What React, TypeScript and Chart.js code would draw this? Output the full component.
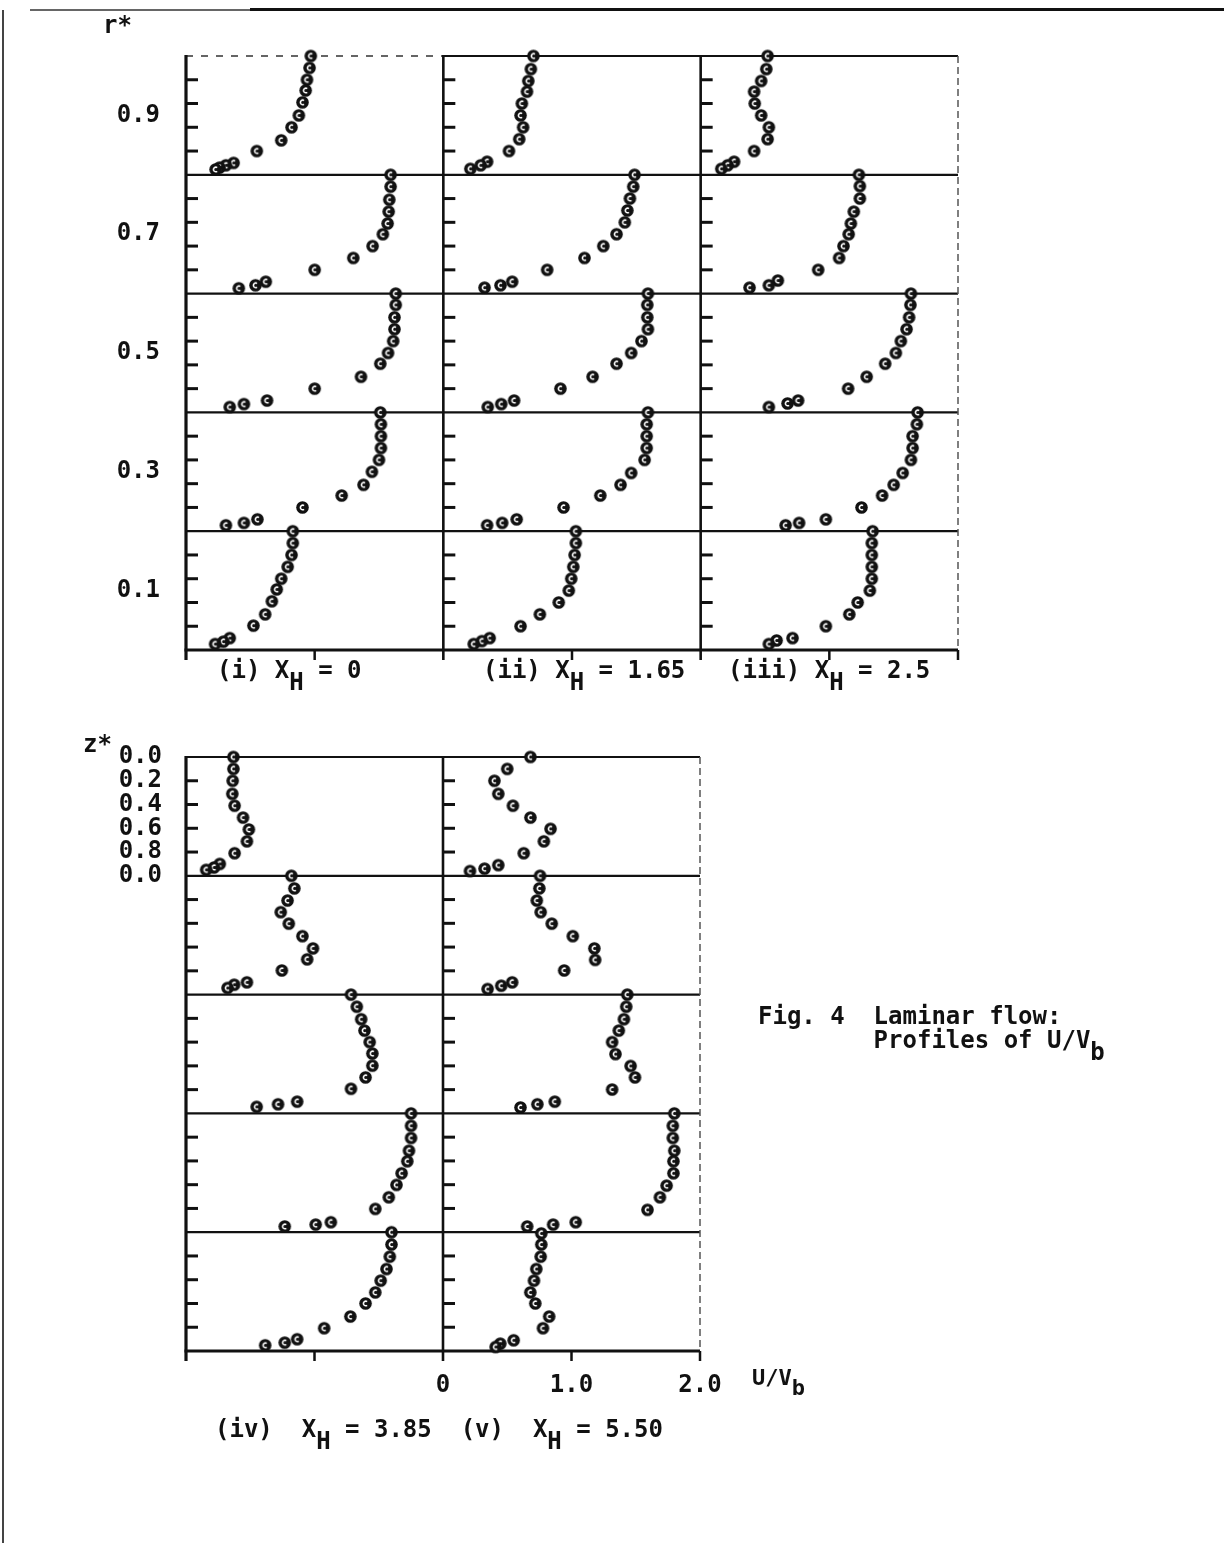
import React, { useEffect, useRef } from "react";
import { Chart, registerables } from "chart.js";

Chart.register(...registerables);

const MONO = '"DejaVu Sans Mono", "Liberation Mono", monospace';
const INK = "#111";

// Upper set: U/Vb across r*, five profiles per station, listed from the top band down.
// u = U/Vb, s = height inside the band (0 = band foot, 1 = band head).
const uXh0 = [
  [0.97, 0.96, 0.94, 0.93, 0.905, 0.877, 0.82, 0.74, 0.55, 0.37, 0.31, 0.26, 0.23],
  [1.59, 1.59, 1.58, 1.575, 1.567, 1.53, 1.45, 1.3, 1.0, 0.62, 0.54, 0.41],
  [1.63, 1.63, 1.62, 1.62, 1.61, 1.57, 1.51, 1.36, 1.0, 0.63, 0.45, 0.34],
  [1.51, 1.515, 1.515, 1.515, 1.5, 1.445, 1.38, 1.21, 0.905, 0.555, 0.45, 0.31],
  [0.83, 0.83, 0.82, 0.79, 0.74, 0.705, 0.667, 0.615, 0.524, 0.34, 0.29, 0.226],
];
const sXh0 = [
  [1.0, 0.9, 0.8, 0.71, 0.61, 0.5, 0.4, 0.29, 0.2, 0.1, 0.08, 0.06, 0.045],
  [1.0, 0.9, 0.79, 0.69, 0.59, 0.5, 0.4, 0.3, 0.2, 0.1, 0.07, 0.045],
  [1.0, 0.905, 0.8, 0.7, 0.6, 0.5, 0.41, 0.3, 0.2, 0.1, 0.07, 0.045],
  [1.0, 0.9, 0.8, 0.7, 0.6, 0.5, 0.39, 0.3, 0.2, 0.1, 0.07, 0.05],
  [1.0, 0.9, 0.8, 0.7, 0.6, 0.51, 0.41, 0.3, 0.205, 0.1, 0.07, 0.05],
];

const uXh165 = [
  [0.7, 0.68, 0.66, 0.65, 0.61, 0.6, 0.62, 0.59, 0.51, 0.34, 0.29, 0.21],
  [1.486, 1.476, 1.45, 1.43, 1.41, 1.346, 1.243, 1.097, 0.807, 0.535, 0.444, 0.32],
  [1.59, 1.585, 1.585, 1.59, 1.54, 1.46, 1.346, 1.16, 0.91, 0.55, 0.45, 0.345],
  [1.59, 1.58, 1.58, 1.58, 1.564, 1.46, 1.377, 1.22, 0.934, 0.57, 0.457, 0.34],
  [1.03, 1.03, 1.02, 1.01, 0.994, 0.975, 0.897, 0.75, 0.6, 0.36, 0.3, 0.236],
];
const sXh165 = [
  [1.0, 0.89, 0.79, 0.7, 0.6, 0.5, 0.4, 0.3, 0.2, 0.11, 0.08, 0.05],
  [1.0, 0.9, 0.8, 0.7, 0.6, 0.5, 0.4, 0.3, 0.2, 0.1, 0.07, 0.05],
  [1.0, 0.905, 0.8, 0.7, 0.6, 0.5, 0.41, 0.3, 0.2, 0.1, 0.07, 0.045],
  [1.0, 0.9, 0.8, 0.7, 0.6, 0.49, 0.39, 0.3, 0.2, 0.1, 0.07, 0.05],
  [1.0, 0.9, 0.8, 0.7, 0.6, 0.5, 0.4, 0.3, 0.2, 0.1, 0.075, 0.05],
];

const uXh25 = [
  [0.52, 0.51, 0.47, 0.415, 0.42, 0.47, 0.53, 0.52, 0.415, 0.26, 0.21, 0.16],
  [1.23, 1.237, 1.237, 1.19, 1.167, 1.15, 1.11, 1.076, 0.913, 0.6, 0.53, 0.38],
  [1.634, 1.63, 1.62, 1.6, 1.556, 1.517, 1.434, 1.29, 1.146, 0.757, 0.675, 0.53],
  [1.686, 1.68, 1.647, 1.647, 1.634, 1.57, 1.5, 1.41, 1.25, 0.973, 0.765, 0.66],
  [1.336, 1.33, 1.33, 1.33, 1.33, 1.315, 1.22, 1.155, 0.973, 0.714, 0.59, 0.53],
];
const sXh25 = [
  [1.0, 0.89, 0.79, 0.7, 0.6, 0.5, 0.4, 0.3, 0.2, 0.11, 0.08, 0.05],
  [1.0, 0.905, 0.8, 0.69, 0.59, 0.5, 0.4, 0.3, 0.2, 0.11, 0.07, 0.05],
  [1.0, 0.905, 0.8, 0.7, 0.6, 0.5, 0.41, 0.3, 0.2, 0.1, 0.075, 0.045],
  [1.0, 0.9, 0.8, 0.7, 0.6, 0.49, 0.39, 0.3, 0.2, 0.1, 0.07, 0.05],
  [1.0, 0.9, 0.8, 0.7, 0.6, 0.5, 0.4, 0.3, 0.2, 0.1, 0.08, 0.05],
];

// Lower set: U/Vb down z*, five profiles per station, listed from the top band down.
const uXh385 = [
  [0.369, 0.369, 0.363, 0.36, 0.378, 0.444, 0.489, 0.474, 0.378, 0.263, 0.218, 0.157],
  [0.82, 0.843, 0.79, 0.737, 0.8, 0.906, 0.988, 0.943, 0.746, 0.474, 0.375, 0.323],
  [1.284, 1.329, 1.363, 1.389, 1.429, 1.45, 1.45, 1.397, 1.284, 0.865, 0.716, 0.55],
  [1.751, 1.751, 1.751, 1.735, 1.722, 1.678, 1.638, 1.578, 1.473, 1.127, 1.009, 0.768],
  [1.599, 1.599, 1.586, 1.56, 1.515, 1.473, 1.397, 1.279, 1.075, 0.865, 0.768, 0.616],
];
const sXh385 = [
  [1.0, 0.9, 0.8, 0.69, 0.59, 0.49, 0.39, 0.29, 0.19, 0.1, 0.07, 0.05],
  [1.0, 0.894, 0.792, 0.694, 0.597, 0.492, 0.389, 0.297, 0.203, 0.103, 0.083, 0.056],
  [1.0, 0.898, 0.793, 0.697, 0.6, 0.504, 0.402, 0.303, 0.207, 0.099, 0.077, 0.055],
  [1.0, 0.896, 0.793, 0.686, 0.597, 0.496, 0.398, 0.294, 0.196, 0.084, 0.064, 0.048],
  [1.0, 0.896, 0.794, 0.69, 0.592, 0.493, 0.4, 0.29, 0.192, 0.099, 0.07, 0.048],
];

const uXh55 = [
  [0.68, 0.5, 0.4, 0.43, 0.544, 0.68, 0.837, 0.785, 0.628, 0.43, 0.323, 0.21],
  [0.755, 0.75, 0.73, 0.76, 0.846, 1.01, 1.178, 1.184, 0.943, 0.538, 0.453, 0.347],
  [1.434, 1.426, 1.408, 1.368, 1.316, 1.342, 1.46, 1.494, 1.316, 0.87, 0.734, 0.603],
  [1.8, 1.788, 1.788, 1.8, 1.793, 1.793, 1.74, 1.688, 1.591, 1.033, 0.857, 0.655],
  [0.765, 0.765, 0.76, 0.726, 0.708, 0.679, 0.718, 0.826, 0.778, 0.55, 0.446, 0.41],
];
const sXh55 = [
  [1.0, 0.9, 0.8, 0.69, 0.59, 0.49, 0.395, 0.29, 0.19, 0.09, 0.06, 0.04],
  [1.0, 0.894, 0.792, 0.694, 0.597, 0.492, 0.389, 0.292, 0.203, 0.103, 0.075, 0.047],
  [1.0, 0.898, 0.793, 0.697, 0.6, 0.499, 0.399, 0.303, 0.201, 0.099, 0.077, 0.05],
  [1.0, 0.896, 0.793, 0.686, 0.597, 0.496, 0.392, 0.294, 0.188, 0.084, 0.064, 0.048],
  [0.99, 0.896, 0.794, 0.69, 0.592, 0.493, 0.4, 0.29, 0.192, 0.09, 0.062, 0.034],
];

// Axis annotations
const rStarTicks = [0.1, 0.3, 0.5, 0.7, 0.9];
const zStarValues = [0, 0.2, 0.4, 0.6, 0.8, 1.0];
const zStarLabels = ["0.0", "0.2", "0.4", "0.6", "0.8", "0.0"];
const uTickValues = [0, 1, 2];
const uTickLabels = ["0", "1.0", "2.0"];

const upperStations = [
  { u: uXh0, s: sXh0 },
  { u: uXh165, s: sXh165 },
  { u: uXh25, s: sXh25 },
];
const lowerStations = [
  { u: uXh385, s: sXh385 },
  { u: uXh55, s: sXh55 },
];

// Station c occupies x in [2c, 2c + 2]; band i (from the top) sits at height (4 - i) * band.
function stationPoints(u: number[][], s: number[][], col: number, band: number) {
  const pts: { x: number; y: number }[] = [];
  u.forEach((row, i) => {
    const base = u.length - 1 - i;
    row.forEach((v, j) => pts.push({ x: col * 2 + v, y: (base + s[i][j]) * band }));
  });
  return pts;
}

// Black disc with a small white "c" opening, as typed on the original sheet
function makeMarker(): HTMLCanvasElement {
  const c = document.createElement("canvas");
  c.width = 15;
  c.height = 15;
  const g = c.getContext("2d")!;
  g.fillStyle = INK;
  g.beginPath();
  g.arc(7.5, 7.5, 6.3, 0, Math.PI * 2);
  g.fill();
  g.strokeStyle = "#fff";
  g.lineWidth = 1.6;
  g.beginPath();
  g.arc(7.7, 7.5, 2.3, 0.3 * Math.PI, 1.7 * Math.PI);
  g.stroke();
  return c;
}

// Frame, band separators and the short inward ticks of each station
function panelFrame(cols: number, band: number, dashedHead: boolean) {
  return {
    id: "panelFrame",
    beforeDatasetsDraw(chart: any) {
      const { ctx } = chart;
      const xs = chart.scales.x;
      const ys = chart.scales.y;
      const X = (v: number) => xs.getPixelForValue(v);
      const Y = (v: number) => ys.getPixelForValue(v);
      const head = 5 * band;
      const foot = Y(0);
      const line = (x1: number, y1: number, x2: number, y2: number, w: number, color = INK, dash: number[] = []) => {
        ctx.save();
        ctx.strokeStyle = color;
        ctx.lineWidth = w;
        ctx.setLineDash(dash);
        ctx.beginPath();
        ctx.moveTo(x1, y1);
        ctx.lineTo(x2, y2);
        ctx.stroke();
        ctx.restore();
      };
      for (let k = 1; k < 5; k++) line(X(0), Y(k * band), X(2 * cols), Y(k * band), 2.3);
      for (let c = 0; c < cols; c++) {
        const dashed = c === 0 && dashedHead;
        line(X(2 * c), Y(head), X(2 * c + 2), Y(head), dashed ? 1.5 : 2.2, dashed ? "#333" : INK, dashed ? [7, 8] : []);
      }
      line(X(0) - 1.5, foot, X(2 * cols), foot, 3);
      line(X(0), Y(head) - 1, X(0), foot + 10, 3.2);
      for (let c = 1; c < cols; c++) line(X(2 * c), Y(head) - 1, X(2 * c), foot + 10, 2.6);
      line(X(2 * cols), Y(head), X(2 * cols), foot, 1.5, "#555", [7, 4]);
      line(X(2 * cols), foot, X(2 * cols), foot + 10, 2.5);
      for (let c = 0; c < cols; c++) line(X(2 * c + 1), foot, X(2 * c + 1), foot + 10, 2.5);
      for (let c = 0; c < cols; c++) {
        for (let k = 1; k < 25; k++) {
          if (k % 5 === 0) continue;
          const py = Y((k * band) / 5);
          line(X(2 * c), py, X(2 * c) + 12, py, 3);
        }
      }
    },
  };
}

const tickFont = { family: MONO, size: 24, weight: "bold" as const };

function upperConfig(marker: HTMLCanvasElement): any {
  return {
    type: "scatter",
    data: {
      datasets: upperStations.map((st, c) => ({
        data: stationPoints(st.u, st.s, c, 0.2),
        pointStyle: marker,
        pointRadius: 6,
        pointHoverRadius: 6,
        clip: false,
      })),
    },
    options: {
      animation: false,
      responsive: false,
      events: [],
      layout: { padding: { left: 0, right: 266, top: 56, bottom: 50 } },
      plugins: { legend: { display: false }, tooltip: { enabled: false } },
      scales: {
        x: { type: "linear", min: 0, max: 6, display: false },
        y: {
          type: "linear",
          min: 0,
          max: 1,
          afterFit: (s: any) => {
            s.width = 186;
          },
          afterBuildTicks: (s: any) => {
            s.ticks = rStarTicks.map((v) => ({ value: v }));
          },
          grid: { display: false, drawTicks: false },
          border: { display: false },
          ticks: { padding: 26, color: INK, font: tickFont, callback: (v: any) => Number(v).toFixed(1) },
        },
      },
    },
    plugins: [panelFrame(3, 0.2, true)],
  };
}

function lowerConfig(marker: HTMLCanvasElement): any {
  return {
    type: "scatter",
    data: {
      datasets: lowerStations.map((st, c) => ({
        data: stationPoints(st.u, st.s, c, 1),
        pointStyle: marker,
        pointRadius: 6,
        pointHoverRadius: 6,
        clip: false,
      })),
    },
    options: {
      animation: false,
      responsive: false,
      events: [],
      layout: { padding: { left: 0, right: 524, top: 57, bottom: 132 } },
      plugins: { legend: { display: false }, tooltip: { enabled: false } },
      scales: {
        x: {
          type: "linear",
          min: 0,
          max: 4,
          afterFit: (s: any) => {
            s.height = 60;
          },
          afterBuildTicks: (s: any) => {
            s.ticks = uTickValues.map((v) => ({ value: 2 + v }));
          },
          grid: { display: false, drawTicks: false },
          border: { display: false },
          ticks: {
            padding: 20,
            color: INK,
            font: tickFont,
            maxRotation: 0,
            callback: (v: any) => uTickLabels[uTickValues.findIndex((u) => Math.abs(2 + u - v) < 1e-6)],
          },
        },
        y: {
          type: "linear",
          min: 0,
          max: 5,
          afterFit: (s: any) => {
            s.width = 186;
          },
          afterBuildTicks: (s: any) => {
            s.ticks = zStarValues.map((z) => ({ value: 5 - z })).reverse();
          },
          grid: { display: false, drawTicks: false },
          border: { display: false },
          ticks: {
            padding: 24,
            color: INK,
            font: tickFont,
            callback: (v: any) => zStarLabels[zStarValues.findIndex((z) => Math.abs(5 - z - v) < 1e-6)],
          },
        },
      },
    },
    plugins: [panelFrame(2, 1, false)],
  };
}

function Txt({ left, top, size = 24, children }: { left: number; top: number; size?: number; children: React.ReactNode }) {
  return (
    <div style={{ position: "absolute", left, top, whiteSpace: "pre", lineHeight: "24px", fontSize: size }}>
      {children}
    </div>
  );
}

function Sub({ children, drop = 12 }: { children: React.ReactNode; drop?: number }) {
  return <span style={{ position: "relative", top: drop }}>{children}</span>;
}

export default function App() {
  const upperRef = useRef<HTMLCanvasElement>(null);
  const lowerRef = useRef<HTMLCanvasElement>(null);

  useEffect(() => {
    const marker = makeMarker();
    const upper = new Chart(upperRef.current!, upperConfig(marker));
    const lower = new Chart(lowerRef.current!, lowerConfig(marker));
    return () => {
      upper.destroy();
      lower.destroy();
    };
  }, []);

  return (
    <div
      style={{
        position: "absolute",
        left: 0,
        top: 0,
        width: 1224,
        height: 1543,
        background: "#fff",
        overflow: "hidden",
        fontFamily: MONO,
        fontWeight: "bold",
        color: INK,
      }}
    >
      <div style={{ position: "absolute", left: 30, top: 9, width: 220, height: 2, background: "#666" }} />
      <div style={{ position: "absolute", left: 250, top: 8, width: 974, height: 3, background: INK }} />
      <div style={{ position: "absolute", left: 2, top: 10, width: 2, height: 1533, background: "#444" }} />

      <canvas ref={upperRef} width={1224} height={700} style={{ position: "absolute", left: 0, top: 0 }} />
      <canvas ref={lowerRef} width={1224} height={843} style={{ position: "absolute", left: 0, top: 700 }} />

      <Txt left={103} top={13}>r*</Txt>
      <Txt left={217} top={658}>
        (i) X<Sub>H</Sub> = 0
      </Txt>
      <Txt left={483} top={658}>
        (ii) X<Sub>H</Sub> = 1.65
      </Txt>
      <Txt left={728} top={658}>
        (iii) X<Sub>H</Sub> = 2.5
      </Txt>

      <Txt left={83} top={732}>z*</Txt>

      <Txt left={758} top={1004}>Fig. 4  Laminar flow:</Txt>
      <Txt left={758} top={1028}>
        {"        Profiles of U/V"}
        <Sub>b</Sub>
      </Txt>

      <Txt left={752} top={1366} size={22}>
        U/V<Sub drop={10}>b</Sub>
      </Txt>
      <Txt left={215} top={1417}>
        (iv)  X<Sub>H</Sub> = 3.85  (v)  X<Sub>H</Sub> = 5.50
      </Txt>
    </div>
  );
}
